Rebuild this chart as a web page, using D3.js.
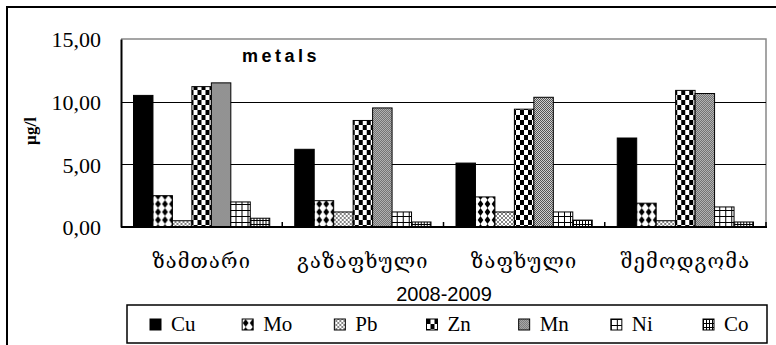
<!DOCTYPE html>
<html>
<head>
<meta charset="utf-8">
<script src="https://cdn.jsdelivr.net/npm/d3@7"></script>
<style>
  html, body { margin: 0; padding: 0; background: #fff; }
  svg { display: block; }
  .serif { font-family: "Liberation Serif", "Times New Roman", Times, serif; }
  .sans { font-family: "Liberation Sans", Arial, Helvetica, sans-serif; }
  .geo { font-family: "DejaVu Serif", "DejaVu Sans", serif; }
</style>
</head>
<body>
<svg id="chart" width="776" height="345"></svg>
<script>
// ---- data ----
const categories = ["ზამთარი", "გაზაფხული", "ზაფხული", "შემოდგომა"];
const series = ["Cu", "Mo", "Pb", "Zn", "Mn", "Ni", "Co"];
const Cu = [10.5, 6.2, 5.1, 7.1];
const Mo = [2.5, 2.1, 2.4, 1.9];
const Pb = [0.5, 1.2, 1.2, 0.5];
const Zn = [11.2, 8.5, 9.4, 10.9];
const Mn = [11.5, 9.5, 10.35, 10.65];
const Ni = [2.0, 1.2, 1.2, 1.6];
const Co = [0.7, 0.4, 0.55, 0.4];
const yTicks = [0, 5, 10, 15];
const chartTitle = "metals";
const yTitle = "µg/l";
const xTitle = "2008-2009";

const valuesBySeries = { Cu, Mo, Pb, Zn, Mn, Ni, Co };

// ---- layout ----
const svg = d3.select("#chart");
const W = 776, H = 345;
const plot = { left: 121, top: 39, right: 766, bottom: 227 };

svg.append("rect").attr("width", W).attr("height", H).attr("fill", "#fff");

// patterns
const defs = svg.append("defs");
function pat(id, w, h) {
  return defs.append("pattern").attr("id", id).attr("patternUnits", "userSpaceOnUse")
    .attr("width", w).attr("height", h);
}
let p = pat("pMo", 7, 8);
p.append("rect").attr("width", 7).attr("height", 8).attr("fill", "#fff");
p.append("polygon").attr("points", "3.5,0 6.3,4 3.5,8 0.7,4").attr("fill", "#000");
p = pat("pPb", 4, 4);
p.append("rect").attr("width", 4).attr("height", 4).attr("fill", "#fff");
p.append("path").attr("d", "M0,0L4,4M4,0L0,4").attr("stroke", "#666").attr("stroke-width", 0.8);
p = pat("pZn", 8, 10);
p.append("rect").attr("width", 8).attr("height", 10).attr("fill", "#fff");
p.append("rect").attr("x", 0).attr("y", 0).attr("width", 4).attr("height", 5).attr("fill", "#000");
p.append("rect").attr("x", 4).attr("y", 5).attr("width", 4).attr("height", 5).attr("fill", "#000");
p = pat("pMn", 2, 2);
p.append("rect").attr("width", 2).attr("height", 2).attr("fill", "#d0d0d0");
p.append("rect").attr("x", 0).attr("y", 0).attr("width", 1).attr("height", 1).attr("fill", "#555");
p.append("rect").attr("x", 1).attr("y", 1).attr("width", 1).attr("height", 1).attr("fill", "#555");
p = pat("pNi", 6, 6);
p.append("rect").attr("width", 6).attr("height", 6).attr("fill", "#fff");
p.append("path").attr("d", "M0.5,0V6M0,0.5H6").attr("stroke", "#000").attr("stroke-width", 1);
p = pat("pCo", 3, 4);
p.append("rect").attr("width", 3).attr("height", 4).attr("fill", "#fff");
p.append("path").attr("d", "M0.5,0V4M0,0.5H3").attr("stroke", "#000").attr("stroke-width", 1);

const fills = { Cu: "#000", Mo: "url(#pMo)", Pb: "url(#pPb)", Zn: "url(#pZn)", Mn: "url(#pMn)", Ni: "url(#pNi)", Co: "url(#pCo)" };

// outer frame (extends beyond the window)
svg.append("rect").attr("x", 7).attr("y", 7).attr("width", 820).attr("height", 400)
  .attr("fill", "none").attr("stroke", "#000").attr("stroke-width", 2);

// scales
const x0 = d3.scaleBand().domain(categories).range([plot.left, plot.right])
  .paddingInner(0.155).paddingOuter(0.0775);
const x1 = d3.scaleBand().domain(series).range([0, x0.bandwidth()]);
const y = d3.scaleLinear().domain([0, 15]).range([plot.bottom, plot.top]);

svg.append("path")
  .attr("d", `M${plot.left},${plot.top}H${plot.right}V${plot.bottom}`)
  .attr("fill", "none").attr("stroke", "#888").attr("stroke-width", 1.5);

svg.append("g").selectAll("line").data(yTicks.filter(t => t > 0 && t < 15)).join("line")
  .attr("x1", plot.left).attr("x2", plot.right)
  .attr("y1", d => Math.round(y(d)) + 0.5).attr("y2", d => Math.round(y(d)) + 0.5)
  .attr("stroke", "#000").attr("stroke-width", 1.2);

const groups = svg.append("g").selectAll("g").data(categories).join("g")
  .attr("transform", d => `translate(${x0(d)},0)`);
groups.selectAll("rect").data((c, i) => series.map(s => ({ s, v: valuesBySeries[s][i] }))).join("rect")
  .attr("x", d => x1(d.s))
  .attr("y", d => y(d.v))
  .attr("width", x1.bandwidth())
  .attr("height", d => y(0) - y(d.v))
  .attr("fill", d => fills[d.s])
  .attr("stroke", "#000").attr("stroke-width", 1);

const yAxis = d3.axisLeft(y).tickValues(yTicks).tickSize(0).tickPadding(20)
  .tickFormat(d => d3.format(".2f")(d).replace(".", ","));
const gy = svg.append("g").attr("transform", `translate(${plot.left},0)`).call(yAxis);
gy.attr("font-family", null).attr("font-size", null);
gy.select(".domain").attr("stroke", "#000").attr("stroke-width", 2);
gy.selectAll("text").attr("class", "serif")
  .style("font-size", "22px").attr("fill", "#000").attr("dy", "0.36em");

svg.append("line").attr("x1", plot.left).attr("x2", plot.right + 1)
  .attr("y1", plot.bottom).attr("y2", plot.bottom)
  .attr("stroke", "#000").attr("stroke-width", 2);
const boundaries = categories.slice(1).map(c => x0(c) - x0.step() * x0.paddingInner() / 2);
boundaries.push(plot.right);
svg.append("g").selectAll("line").data(boundaries).join("line")
  .attr("x1", d => d).attr("x2", d => d)
  .attr("y1", plot.bottom).attr("y2", plot.bottom - 5)
  .attr("stroke", "#000").attr("stroke-width", 1.5);

svg.append("g").selectAll("text").data(categories).join("text")
  .attr("class", "geo")
  .attr("x", d => x0(d) + x0.bandwidth() / 2)
  .attr("y", 268)
  .attr("text-anchor", "middle")
  .style("font-size", "20px").style("letter-spacing", "1.2px")
  .attr("fill", "#000")
  .text(d => d);

svg.append("text").attr("class", "sans").attr("x", 281).attr("y", 62).attr("text-anchor", "middle")
  .style("font-weight", "bold").style("font-size", "18px").style("letter-spacing", "3.5px")
  .attr("fill", "#000").text(chartTitle);

svg.append("text").attr("class", "serif").attr("transform", "translate(36,131) rotate(-90)").attr("text-anchor", "middle")
  .style("font-weight", "bold").style("font-size", "17px").attr("fill", "#000").text(yTitle);

svg.append("text").attr("class", "sans").attr("x", 444).attr("y", 301).attr("text-anchor", "middle")
  .style("font-size", "20px").attr("fill", "#000").text(xTitle);

const legend = svg.append("g");
legend.append("rect").attr("x", 127).attr("y", 305).attr("width", 640).attr("height", 38)
  .attr("fill", "#fff").attr("stroke", "#000").attr("stroke-width", 1.5);
const lx = d3.scalePoint().domain(series).range([150, 703]);
const items = legend.selectAll("g.item").data(series).join("g").attr("class", "item")
  .attr("transform", d => `translate(${lx(d)},319)`);
items.append("rect").attr("width", 11).attr("height", 11)
  .attr("fill", d => fills[d]).attr("stroke", "#000").attr("stroke-width", 1);
items.append("text").attr("class", "serif").attr("x", 21).attr("y", 12)
  .style("font-size", "21px").attr("fill", "#000").text(d => d);
</script>
</body>
</html>
